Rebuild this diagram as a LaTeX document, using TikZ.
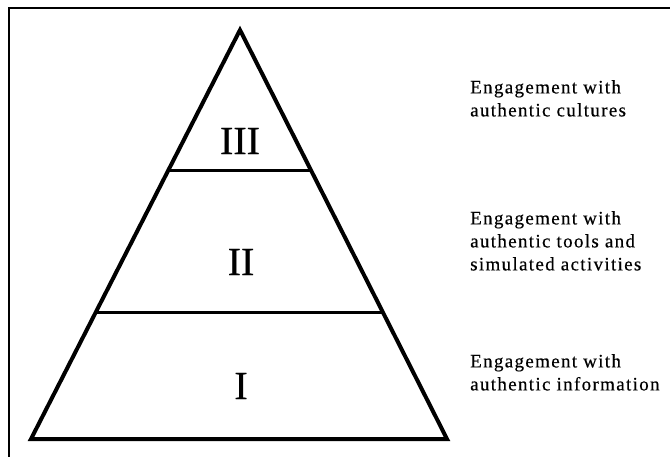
\documentclass[tikz,border=0pt]{standalone}
\usepackage{fontspec}
\setmainfont{Liberation Serif}
\newfontfamily\descfont{Liberation Serif}[LetterSpace=7,FakeBold=0.4]
\newfontfamily\numfont{Liberation Serif}[FakeBold=0.6]
\usetikzlibrary{calc}
\begin{document}
\begin{tikzpicture}[x=1pt,y=-1pt,
  frameline/.style={line width=1.5pt},
  pyr/.style={line width=4pt,line join=miter},
  tier/.style={line width=3pt},
  numeral/.style={inner sep=0pt,font=\numfont\fontsize{40}{40}\selectfont},
  desc/.style={anchor=north west,inner sep=0pt,align=left,font=\descfont\fontsize{19}{23}\selectfont}]
\useasboundingbox (0,0) rectangle (670,457);
% frame (top and left edges)
\coordinate (ftl) at (9,8);
\coordinate (ftr) at (670,8);
\coordinate (fbl) at (9,457);
\draw[frameline] (ftr) -- (ftl) -- (fbl);
% pyramid
\coordinate (apex) at (240,30);
\coordinate (bl) at (31,439);
\coordinate (br) at (447,439);
\draw[pyr] (apex) -- (bl) -- (br) -- cycle;
\coordinate (l1) at ($(apex)!0.3447!(bl)$);
\coordinate (r1) at ($(apex)!0.3447!(br)$);
\coordinate (l2) at ($(apex)!0.6895!(bl)$);
\coordinate (r2) at ($(apex)!0.6895!(br)$);
\draw[tier] (l1) -- (r1);
\draw[tier] (l2) -- (r2);
% numerals
\node[numeral] (n3) at (240,141) {III};
\node[numeral] (n2) at (241,262) {II};
\node[numeral] (n1) at (241,386) {I};
% descriptions
\node[desc] (d3) at (470,80) {Engagement with\\authentic cultures};
\node[desc] (d2) at (470,211) {Engagement with\\authentic tools and\\simulated activities};
\node[desc] (d1) at (470,354) {Engagement with\\authentic information};
\end{tikzpicture}
\end{document}
